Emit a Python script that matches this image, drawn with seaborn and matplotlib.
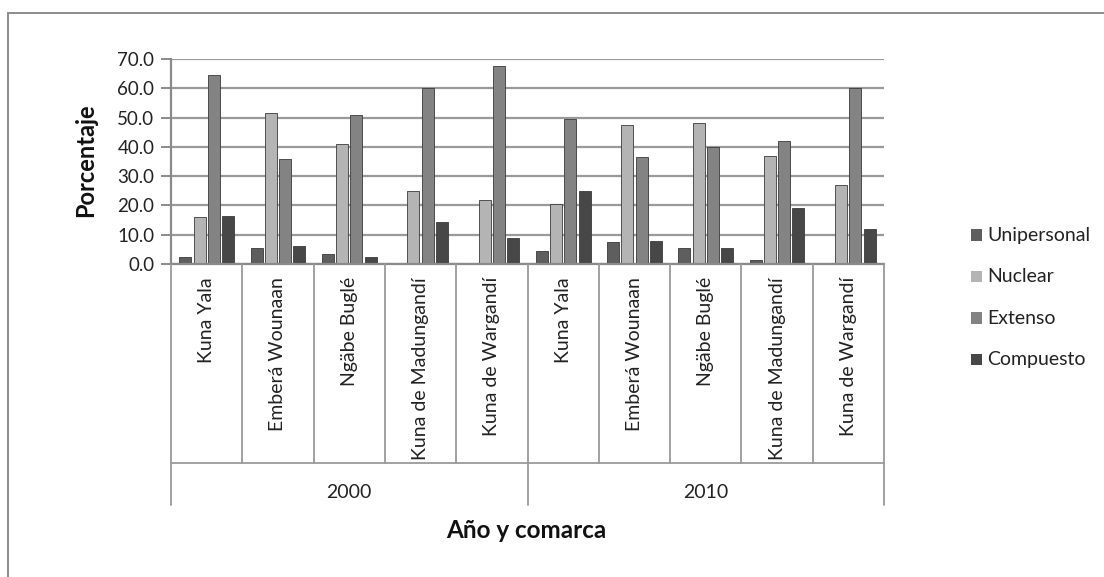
import pandas as pd
import numpy as np
import matplotlib.pyplot as plt
import seaborn as sns
from matplotlib.patches import Rectangle
from matplotlib.lines import Line2D

# datos
years = ['2000', '2010']
comarcas = ['Kuna Yala', 'Emberá Wounaan', 'Ngäbe Buglé', 'Kuna de Madungandí', 'Kuna de Wargandí']
series = ['Unipersonal', 'Nuclear', 'Extenso', 'Compuesto']
unipersonal = [2.5, 5.5, 3.5, 0.3, 0.5, 4.5, 7.5, 5.5, 1.5, 0.5]
nuclear = [16.0, 51.5, 41.0, 25.0, 22.0, 20.5, 47.5, 48.0, 37.0, 27.0]
extenso = [64.5, 36.0, 51.0, 60.0, 67.5, 49.5, 36.5, 40.0, 42.0, 60.0]
compuesto = [16.5, 6.0, 2.5, 14.5, 9.0, 25.0, 8.0, 5.5, 19.0, 12.0]
colors = ['#5e5e5e', '#b4b4b4', '#838383', '#474747']

keys = [f'{y}|{c}' for y in years for c in comarcas]
rows = []
for vals, s in zip([unipersonal, nuclear, extenso, compuesto], series):
    for k, v in zip(keys, vals):
        rows.append({'key': k, 'serie': s, 'valor': v})
df = pd.DataFrame(rows)

sns.set_style('white')
plt.rcParams['font.family'] = ['Lato', 'DejaVu Sans']

fig = plt.figure(figsize=(11.04, 5.77), dpi=100)
W, H = 1104, 577


def fx(px):
    return px / W


def fy(py):
    return 1 - py / H


x0, x1 = 171, 884
ax = fig.add_axes([fx(x0), fy(264), fx(x1) - fx(x0), fy(59) - fy(264)])
sns.barplot(data=df, x='key', y='valor', hue='serie', order=keys, hue_order=series,
            palette=colors, width=0.8, ax=ax, legend=False, edgecolor='#3a3a3a', linewidth=0.6)
for p in ax.patches:
    w = p.get_width()
    p.set_x(p.get_x() + w * 0.08)
    p.set_width(w * 0.84)

ax.set_ylim(0, 70)
ax.set_xlim(-0.5, len(keys) - 0.5)
ax.set_yticks(np.arange(0, 71, 10))
ax.set_yticklabels([f'{v:.1f}' for v in np.arange(0, 71, 10)], fontsize=13.5, color='#222222')
ax.yaxis.grid(True, color='#9a9a9a', linewidth=1.6)
ax.set_axisbelow(True)
ax.set_xticks([])
ax.set_xlabel('')
ax.set_ylabel('')
for side in ['top', 'right']:
    ax.spines[side].set_visible(False)
ax.spines['left'].set_color('#8a8a8a')
ax.spines['left'].set_linewidth(1.6)
ax.spines['bottom'].set_color('#8a8a8a')
ax.spines['bottom'].set_linewidth(1.6)
ax.tick_params(axis='y', left=True, length=7, color='#8a8a8a', width=1.4, pad=5)

fig.text(fx(86), fy(160), 'Porcentaje', rotation=90, ha='center', va='center',
         fontsize=17, fontweight='bold', color='#111111')

# tabla de categorias bajo el eje
lc = '#9a9a9a'
cw = (x1 - x0) / len(keys)
for i in range(len(keys) + 1):
    x = x0 + i * cw
    bottom = 505 if i in (0, 5, 10) else 463
    fig.add_artist(Line2D([fx(x), fx(x)], [fy(264), fy(bottom)], color=lc, lw=1.3))
fig.add_artist(Line2D([fx(x0), fx(x1)], [fy(463), fy(463)], color=lc, lw=1.3))
for i, k in enumerate(keys):
    x = x0 + (i + 0.5) * cw
    fig.text(fx(x), fy(277), k.split('|')[1], rotation=90, ha='center', va='top',
             fontsize=14, color='#222222')
for j, y in enumerate(years):
    x = x0 + (j * 5 + 2.5) * cw
    fig.text(fx(x), fy(492), y, ha='center', va='center', fontsize=14, color='#222222')

fig.text(fx(526), fy(530), 'Año y comarca', ha='center', va='center', fontsize=17.5,
         fontweight='bold', color='#111111')

# leyenda
for i, (s, c) in enumerate(zip(series, colors)):
    yy = 235 + i * 41.5
    fig.add_artist(Rectangle((fx(971), fy(yy + 5.5)), fx(11), fy(yy - 5.5) - fy(yy + 5.5), facecolor=c,
                             edgecolor='none'))
    fig.text(fx(987), fy(yy), s, ha='left', va='center', fontsize=14, color='#222222')

# marco exterior (solo arriba e izquierda visibles)
fig.add_artist(Line2D([fx(8), fx(8)], [fy(13), 0], color='#8c8c8c', lw=1.4))
fig.add_artist(Line2D([fx(8), 1], [fy(13), fy(13)], color='#8c8c8c', lw=1.4))

fig.savefig('out.png', dpi=100, facecolor='white')
